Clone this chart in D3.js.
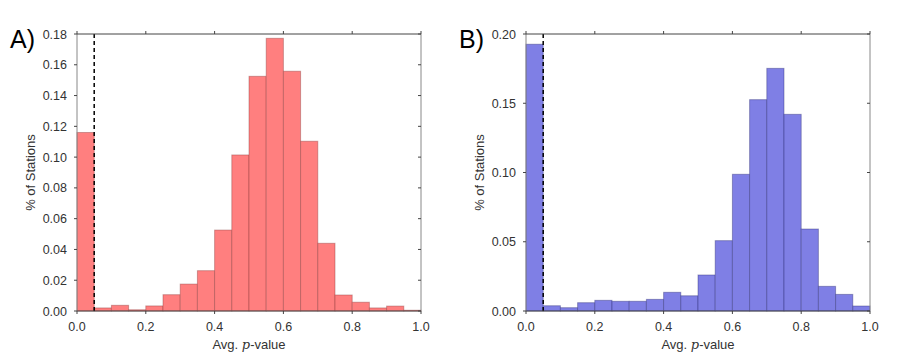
<!DOCTYPE html>
<html>
<head>
<meta charset="utf-8">
<script src="https://cdn.jsdelivr.net/npm/d3@7"></script>
<style>
  body { margin: 0; background: #fff; }
  text { font-family: "Liberation Sans", Arial, sans-serif; }
</style>
</head>
<body>
<div id="chart"></div>
<script>
// bins de 0.05 entre 0 y 1
const binEdges = d3.range(0, 20).map(i => i * 0.05);
const binWidth = 0.05;

const valuesA = [0.116, 0.002, 0.0037, 0.0008, 0.0033, 0.0106, 0.0175, 0.0262, 0.0526, 0.1014,
  0.1525, 0.1772, 0.1558, 0.1103, 0.044, 0.0104, 0.0057, 0.002, 0.0032, 0.0005];
const valuesB = [0.1926, 0.0038, 0.0024, 0.006, 0.0077, 0.007, 0.007, 0.0084, 0.0135, 0.011,
  0.026, 0.0508, 0.0987, 0.1526, 0.1752, 0.142, 0.0592, 0.0178, 0.012, 0.0036];

const xTicks = [0.0, 0.2, 0.4, 0.6, 0.8, 1.0];
const yTicksA = [0.00, 0.02, 0.04, 0.06, 0.08, 0.10, 0.12, 0.14, 0.16, 0.18];
const yTicksB = [0.00, 0.05, 0.10, 0.15, 0.20];
const threshold = 0.05;

const svg = d3.select('#chart').append('svg')
  .attr('width', 913)
  .attr('height', 355);

function drawPanel(opts) {
  const { left, right, top, bottom, values, yMax, yTicks, fill, stroke, label } = opts;

  const x = d3.scaleLinear().domain([0, 1]).range([left, right]);
  const y = d3.scaleLinear().domain([0, yMax]).range([bottom, top]);
  const g = svg.append('g');

  // barras
  g.selectAll('rect')
    .data(values)
    .enter()
    .append('rect')
    .attr('x', (d, i) => x(binEdges[i]))
    .attr('y', d => y(d))
    .attr('width', x(binWidth) - x(0))
    .attr('height', d => y(0) - y(d))
    .attr('fill', fill)
    .attr('stroke', stroke)
    .attr('stroke-opacity', 0.4)
    .attr('stroke-width', 1);

  // linea umbral
  g.append('line')
    .attr('x1', x(threshold)).attr('x2', x(threshold))
    .attr('y1', y(0)).attr('y2', y(yMax))
    .attr('stroke', '#000')
    .attr('stroke-width', 1.5)
    .attr('stroke-dasharray', '4,3');

  // marco
  g.append('line').attr('x1', left).attr('x2', left).attr('y1', top).attr('y2', bottom)
    .attr('stroke', '#888');
  g.append('line').attr('x1', right).attr('x2', right).attr('y1', top).attr('y2', bottom)
    .attr('stroke', '#888');
  g.append('line').attr('x1', left).attr('x2', right).attr('y1', top).attr('y2', top)
    .attr('stroke', '#444');
  g.append('line').attr('x1', left).attr('x2', right).attr('y1', bottom).attr('y2', bottom)
    .attr('stroke', '#444');

  // ticks
  xTicks.forEach(t => {
    g.append('line').attr('x1', x(t)).attr('x2', x(t)).attr('y1', bottom).attr('y2', bottom + 3)
      .attr('stroke', '#444');
    g.append('line').attr('x1', x(t)).attr('x2', x(t)).attr('y1', top).attr('y2', top - 3)
      .attr('stroke', '#444');
    g.append('text')
      .attr('x', x(t))
      .attr('y', bottom + 20)
      .attr('text-anchor', 'middle')
      .attr('font-size', 12.5)
      .attr('fill', '#333')
      .text(t.toFixed(1));
  });

  yTicks.forEach(t => {
    g.append('line').attr('x1', left - 3).attr('x2', left).attr('y1', y(t)).attr('y2', y(t))
      .attr('stroke', '#444');
    g.append('line').attr('x1', right - 3).attr('x2', right).attr('y1', y(t)).attr('y2', y(t))
      .attr('stroke', '#444');
    g.append('text')
      .attr('x', left - 10)
      .attr('y', y(t) + 4.5)
      .attr('text-anchor', 'end')
      .attr('font-size', 12.5)
      .attr('fill', '#333')
      .text(t.toFixed(2));
  });

  // titulos de ejes
  const xl = g.append('text')
    .attr('x', (left + right) / 2)
    .attr('y', bottom + 38)
    .attr('text-anchor', 'middle')
    .attr('font-size', 13)
    .attr('fill', '#333');
  xl.append('tspan').text('Avg. ');
  xl.append('tspan').attr('font-family', '"DejaVu Serif", serif').attr('font-style', 'italic').text('p');
  xl.append('tspan').text('-value');

  g.append('text')
    .attr('transform', `translate(${left - 42},${(top + bottom) / 2}) rotate(-90)`)
    .attr('text-anchor', 'middle')
    .attr('font-size', 13)
    .attr('fill', '#333')
    .text('% of Stations');

  g.append('text')
    .attr('x', left - 67)
    .attr('y', top + 14)
    .attr('font-size', 25)
    .attr('fill', '#000')
    .text(label);
}

drawPanel({
  left: 77, right: 421, top: 34, bottom: 311,
  values: valuesA, yMax: 0.18, yTicks: yTicksA,
  fill: '#ff7f7f', stroke: '#8a3a3a', label: 'A)'
});

drawPanel({
  left: 526, right: 870, top: 34, bottom: 311,
  values: valuesB, yMax: 0.20, yTicks: yTicksB,
  fill: '#7f7fe5', stroke: '#2a2a70', label: 'B)'
});
</script>
</body>
</html>
